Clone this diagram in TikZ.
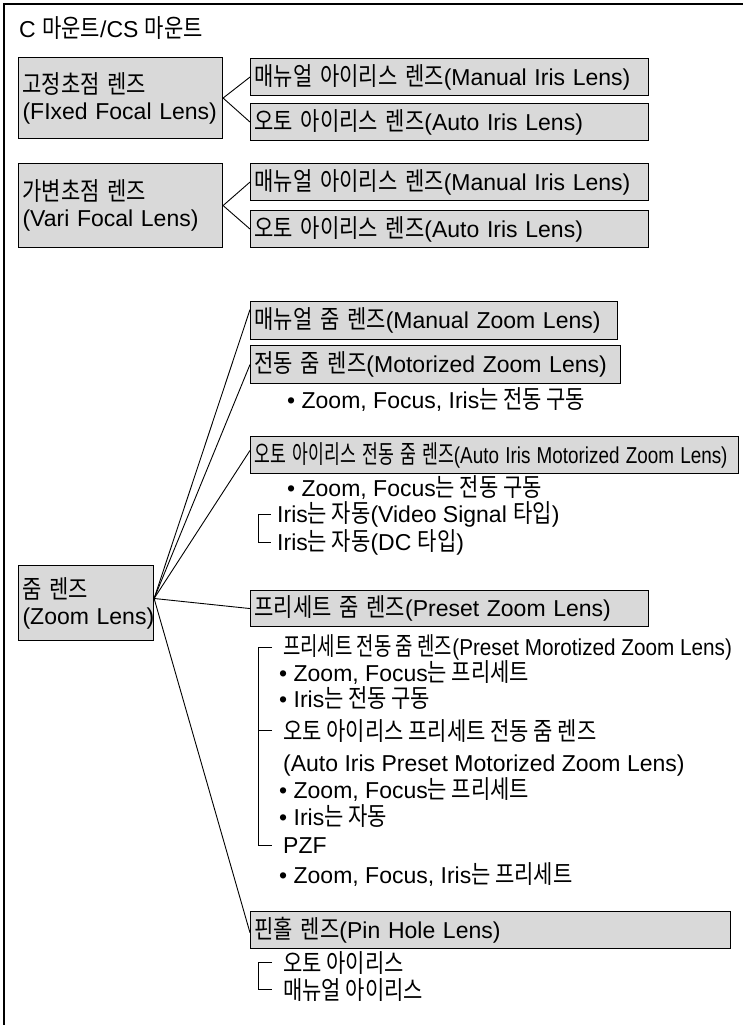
\documentclass[tikz,border=0pt]{standalone}
\usepackage{graphicx}
\usepackage{fontspec}
\setmainfont{Liberation Sans}
\newfontfamily\kr[Scale=1.1,FakeStretch=0.83]{Noto Sans CJK KR}
\newcommand{\kor}[1]{{\kr #1}}
\usetikzlibrary{calc}
\definecolor{boxgray}{gray}{0.85}
\tikzset{
  gbox/.style={draw, line width=1.1pt, fill=boxgray, anchor=north west, inner xsep=4pt, inner ysep=0pt, align=left, minimum height=37pt},
  txt/.style={anchor=base west, inner sep=0pt},
  conn/.style={line width=0.9pt},
  brk/.style={line width=0.8pt},
  frame/.style={line width=1.2pt}
}
\begin{document}
\begin{tikzpicture}[x=1pt,y=-1pt,font=\fontsize{23}{26}\selectfont]
\useasboundingbox (0,0) rectangle (743,1025);
\draw[frame] (4,1025) -- (4,4) -- (743,4);

\node[txt] (title) at (19,38) {C \kor{마운트}/CS \kor{마운트}};

% fixed focal
\node[gbox, text width=196pt, minimum height=81pt] (fixed) at (18,57) {\mbox{\kor{고정초점 렌즈}}\\\mbox{(FIxed Focal Lens)}};
\node[gbox, text width=390pt] (fmi) at (250,58) {\mbox{\kor{매뉴얼 아이리스 렌즈}(Manual Iris Lens)}};
\node[gbox, text width=390pt] (fai) at (250,103) {\mbox{\kor{오토 아이리스 렌즈}(Auto Iris Lens)}};
\draw[conn] (fixed.east) -- (fmi.west);
\draw[conn] (fixed.east) -- (fai.west);

% vari focal
\node[gbox, text width=196pt, minimum height=84pt] (vari) at (18,163) {\mbox{\kor{가변초점 렌즈}}\\\mbox{(Vari Focal Lens)}};
\node[gbox, text width=390pt] (vmi) at (250,163) {\mbox{\kor{매뉴얼 아이리스 렌즈}(Manual Iris Lens)}};
\node[gbox, text width=390pt] (vai) at (250,210) {\mbox{\kor{오토 아이리스 렌즈}(Auto Iris Lens)}};
\draw[conn] (vari.east) -- (vmi.west);
\draw[conn] (vari.east) -- (vai.west);

% zoom
\node[gbox, text width=127pt, minimum height=75pt] (zoom) at (18,565) {\mbox{\kor{줌 렌즈}}\\\mbox{(Zoom Lens)}};
\coordinate (apex) at ($(zoom.north east)!0.44!(zoom.south east)$);

\node[gbox, text width=359pt, minimum height=38pt] (mz) at (250,301) {\mbox{\kor{매뉴얼 줌 렌즈}(Manual Zoom Lens)}};
\node[gbox, text width=362pt, minimum height=38pt] (motz) at (250,345) {\mbox{\kor{전동 줌 렌즈}(Motorized Zoom Lens)}};
\node[txt] (b1) at (287,408) {• Zoom, Focus, Iris\kor{는 전동 구동}};
\node[gbox, text width=480pt] (aimz) at (250,436) {\mbox{\scalebox{0.82}[1]{\kor{오토 아이리스 전동 줌 렌즈}(Auto Iris Motorized Zoom Lens)}}};
\node[txt] (b2) at (287,496) {• Zoom, Focus\kor{는 전동 구동}};
\node[txt] (i1) at (277,522) {Iris\kor{는 자동}(Video Signal \kor{타입})};
\node[txt] (i2) at (277,550) {Iris\kor{는 자동}(DC \kor{타입})};
\draw[brk] ([xshift=-6pt]i1.west) -- ++(-13,0) |- ([xshift=-6pt]i2.west);

\node[gbox, text width=390pt, minimum height=36pt] (pz) at (250,590) {\mbox{\kor{프리세트 줌 렌즈}(Preset Zoom Lens)}};
\node[txt] (p1) at (283,655) {\scalebox{0.9}[1]{\kor{프리세트 전동 줌 렌즈}(Preset Morotized Zoom Lens)}};
\node[txt] (p2) at (279,681) {• Zoom, Focus\kor{는 프리세트}};
\node[txt] (p3) at (279,707) {• Iris\kor{는 전동 구동}};
\node[txt] (p4) at (283,740) {\kor{오토 아이리스 프리세트 전동 줌 렌즈}};
\node[txt] (p5) at (283,771) {(Auto Iris Preset Motorized Zoom Lens)};
\node[txt] (p6) at (279,798) {• Zoom, Focus\kor{는 프리세트}};
\node[txt] (p7) at (279,825) {• Iris\kor{는 자동}};
\node[txt] (p8) at (283,853) {PZF};
\node[txt] (p9) at (279,883) {• Zoom, Focus, Iris\kor{는 프리세트}};
\draw[brk] ([xshift=-11pt]p1.west) -- ++(-14,0) |- ([xshift=-11pt]p8.west);
\draw[brk] ([xshift=-11pt]p4.west) -- ++(-14,0);

\node[gbox, text width=472pt] (ph) at (250,911) {\mbox{\kor{핀홀 렌즈}(Pin Hole Lens)}};
\node[txt] (h1) at (283,972) {\kor{오토 아이리스}};
\node[txt] (h2) at (283,999) {\kor{매뉴얼 아이리스}};
\draw[brk] ([xshift=-11pt]h1.west) -- ++(-14,0) |- ([xshift=-11pt]h2.west);

\draw[conn] (apex) -- ($(mz.north west)!0.22!(mz.south west)$);
\draw[conn] (apex) -- (motz.west);
\draw[conn] (apex) -- ($(aimz.north west)!0.38!(aimz.south west)$);
\draw[conn] (apex) -- (pz.west);
\draw[conn] (apex) -- ($(ph.north west)!0.57!(ph.south west)$);
\end{tikzpicture}
\end{document}
